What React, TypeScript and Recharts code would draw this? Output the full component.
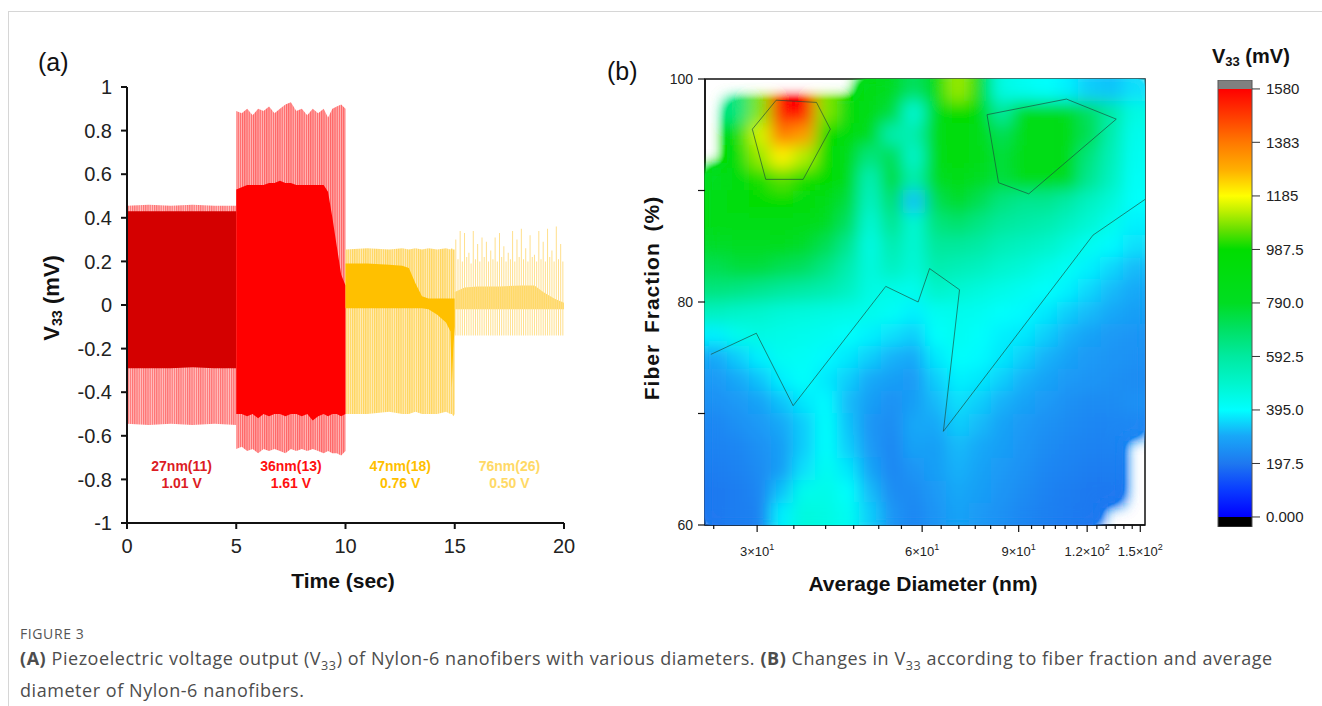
import React from "react"
import {
  ComposedChart, ScatterChart, BarChart, Area, Bar, Scatter, XAxis, YAxis, ReferenceArea,
} from "recharts"

const SANS = "'Liberation Sans', Arial, Helvetica, sans-serif"

// ---------- panel (a): V33 vs time ----------
const timeTicks = [0, 5, 10, 15, 20]
const voltTicks = [-1, -0.8, -0.6, -0.4, -0.2, 0, 0.2, 0.4, 0.6, 0.8, 1]

// 27 nm
const seg1Time = [0, 1, 2, 3, 4, 5]
const seg1SpikeHi = [0.455, 0.46, 0.455, 0.46, 0.455, 0.455]
const seg1SpikeLo = [-0.545, -0.55, -0.545, -0.55, -0.545, -0.55]
const seg1CoreHi = [0.43, 0.43, 0.43, 0.43, 0.43, 0.43]
const seg1CoreLo = [-0.29, -0.29, -0.29, -0.285, -0.29, -0.29]

// 36 nm
const seg2Time = [5, 5.25, 5.5, 5.75, 6, 6.25, 6.5, 6.75, 7, 7.25, 7.5, 7.75, 8, 8.25, 8.5, 8.75, 9, 9.2, 9.4, 9.6, 9.8, 10]
const seg2SpikeHi = [0.89, 0.88, 0.9, 0.87, 0.9, 0.89, 0.91, 0.88, 0.9, 0.92, 0.93, 0.89, 0.9, 0.87, 0.9, 0.88, 0.9, 0.86, 0.9, 0.91, 0.92, 0.9]
const seg2SpikeLo = [-0.66, -0.65, -0.67, -0.66, -0.68, -0.66, -0.67, -0.66, -0.67, -0.68, -0.66, -0.67, -0.66, -0.67, -0.66, -0.67, -0.68, -0.67, -0.68, -0.68, -0.69, -0.67]
const seg2CoreHi = [0.53, 0.54, 0.55, 0.55, 0.55, 0.55, 0.56, 0.56, 0.57, 0.56, 0.56, 0.55, 0.55, 0.55, 0.55, 0.55, 0.55, 0.52, 0.4, 0.27, 0.14, 0.09]
const seg2CoreLo = [-0.5, -0.5, -0.51, -0.5, -0.52, -0.5, -0.51, -0.5, -0.5, -0.51, -0.5, -0.5, -0.51, -0.5, -0.53, -0.51, -0.5, -0.51, -0.5, -0.5, -0.51, -0.5]

// 47 nm
const seg3Time = [10, 11, 12, 12.6, 12.9, 13.2, 13.5, 13.8, 14.2, 14.6, 14.8, 14.87, 14.93, 15]
const seg3SpikeHi = [0.255, 0.26, 0.255, 0.26, 0.255, 0.26, 0.255, 0.26, 0.255, 0.26, 0.255, 0.26, 0.255, 0.255]
const seg3SpikeLo = [-0.5, -0.5, -0.49, -0.5, -0.5, -0.49, -0.5, -0.5, -0.5, -0.49, -0.5, -0.5, -0.51, -0.5]
const seg3CoreHi = [0.19, 0.19, 0.185, 0.18, 0.17, 0.1, 0.04, 0.03, 0.03, 0.03, 0.03, 0.03, 0.03, 0.03]
const seg3CoreLo = [-0.015, -0.015, -0.015, -0.015, -0.015, -0.015, -0.015, -0.02, -0.045, -0.08, -0.12, -0.38, -0.2, -0.1]

// 76 nm
const seg4CoreTime = [15, 15.45, 16.05, 17.05, 18.05, 18.65, 19.05, 19.55, 20]
const seg4CoreHi = [0.06, 0.08, 0.085, 0.085, 0.09, 0.09, 0.06, 0.03, 0.01]
const seg4CoreLo = [-0.02, -0.02, -0.02, -0.02, -0.02, -0.02, -0.02, -0.02, -0.02]
const seg4SpikeTime = [
  15.05, 15.15, 15.25, 15.35, 15.45, 15.55, 15.65, 15.75, 15.85, 15.95,
  16.05, 16.15, 16.25, 16.35, 16.45, 16.55, 16.65, 16.75, 16.85, 16.95,
  17.05, 17.15, 17.25, 17.35, 17.45, 17.55, 17.65, 17.75, 17.85, 17.95,
  18.05, 18.15, 18.25, 18.35, 18.45, 18.55, 18.65, 18.75, 18.85, 18.95,
  19.05, 19.15, 19.25, 19.35, 19.45, 19.55, 19.65, 19.75, 19.85, 19.95,
]
const seg4SpikeHi = [
  0.3, 0.21, 0.34, 0.2, 0.33, 0.22, 0.24, 0.19, 0.34, 0.21,
  0.28, 0.2, 0.31, 0.22, 0.29, 0.2, 0.25, 0.21, 0.31, 0.2,
  0.33, 0.22, 0.27, 0.2, 0.24, 0.21, 0.34, 0.2, 0.3, 0.22,
  0.35, 0.21, 0.26, 0.2, 0.32, 0.22, 0.23, 0.2, 0.34, 0.21,
  0.29, 0.2, 0.35, 0.22, 0.25, 0.2, 0.36, 0.21, 0.28, 0.2,
]
const seg4SpikeLo = -0.14

const segLabelTime = [2.5, 7.5, 12.5, 17.5]
const segLabelLevel = -0.74
const segNames = ["27nm(11)", "36nm(13)", "47nm(18)", "76nm(26)"]
const segVolts = ["1.01 V", "1.61 V", "0.76 V", "0.50 V"]
const segColors = ["#dc1c24", "#ff1010", "#ffbf00", "#ffd966"]

type Row = { t: number; [k: string]: any }
const rowMap = new Map<number, Row>()
function put(t: number, key: string, val: number[]) {
  let r = rowMap.get(t)
  if (!r) { r = { t }; rowMap.set(t, r) }
  r[key] = val
}
seg1Time.forEach((t, i) => { put(t, "s1s", [seg1SpikeLo[i], seg1SpikeHi[i]]); put(t, "s1c", [seg1CoreLo[i], seg1CoreHi[i]]) })
seg2Time.forEach((t, i) => { put(t, "s2s", [seg2SpikeLo[i], seg2SpikeHi[i]]); put(t, "s2c", [seg2CoreLo[i], seg2CoreHi[i]]) })
seg3Time.forEach((t, i) => { put(t, "s3s", [seg3SpikeLo[i], seg3SpikeHi[i]]); put(t, "s3c", [seg3CoreLo[i], seg3CoreHi[i]]) })
seg4CoreTime.forEach((t, i) => put(t, "s4c", [seg4CoreLo[i], seg4CoreHi[i]]))
seg4SpikeTime.forEach((t, i) => put(t, "s4p", [seg4SpikeLo, seg4SpikeHi[i]]))
const voltRows = Array.from(rowMap.values()).sort((a, b) => a.t - b.t)

const segLabelData = segLabelTime.map((t, i) => ({ t, v: segLabelLevel, name: segNames[i], volt: segVolts[i], color: segColors[i] }))

// ---------- panel (b): V33 map ----------
const diamDomain = [24.1, 153]
const diamMajor = [30, 60, 90, 120, 150]
const diamMajorMant = ["3", "6", "9", "1.2", "1.5"]
const diamMajorExp = ["1", "1", "1", "2", "2"]
const diamTicks = [25, 30, 35, 40, 45, 50, 55, 60, 65, 70, 75, 80, 85, 90, 95, 100, 105, 110, 115, 120, 125, 130, 135, 140, 145, 150]
const fracTicks = [60, 70, 80, 90, 100]
const fracLabels = ["60", "", "80", "", "100"]

const fracRows = [99, 97, 95, 93, 91, 89, 87, 85, 83, 81, 79, 77, 75, 73, 71, 69, 67, 65, 63, 61]
const diamCols = [25.2, 27.7, 30.4, 33.3, 36.5, 40.1, 44.0, 48.2, 52.9, 58.0, 63.6, 69.8, 76.6, 83.9, 92.1, 101, 111, 121, 133, 146]
const n = null
const v33Grid: (number | null)[][] = [
  [n, n, n, n, n, n, n, 860, 800, 700, 880, 1100, 880, 450, 420, 400, 380, 340, 330, 360],
  [n, 650, 1080, 1560, 1580, 1080, 900, 850, 750, 480, 850, 950, 900, 600, 850, 860, 820, 700, 580, 450],
  [n, 880, 1150, 1380, 1320, 960, 900, 820, 560, 560, 880, 920, 880, 720, 880, 880, 850, 720, 560, 430],
  [n, 900, 1100, 1200, 1120, 950, 880, 650, 720, 500, 850, 900, 850, 760, 880, 880, 840, 650, 540, 420],
  [820, 900, 1000, 1050, 1000, 950, 850, 550, 760, 560, 800, 850, 800, 750, 850, 850, 800, 620, 520, 410],
  [850, 900, 950, 950, 940, 880, 750, 520, 680, 330, 720, 780, 720, 650, 620, 620, 580, 520, 470, 400],
  [850, 880, 860, 870, 850, 800, 700, 480, 620, 480, 650, 680, 640, 600, 580, 560, 520, 480, 430, 380],
  [780, 800, 800, 820, 780, 720, 620, 450, 560, 480, 600, 600, 580, 540, 520, 500, 460, 420, 390, 360],
  [720, 750, 750, 720, 700, 640, 560, 460, 520, 470, 560, 540, 520, 490, 470, 440, 410, 380, 350, 320],
  [650, 640, 620, 600, 580, 560, 520, 450, 440, 430, 500, 480, 460, 440, 420, 400, 380, 350, 320, 300],
  [520, 500, 490, 470, 460, 450, 440, 430, 410, 380, 420, 430, 420, 400, 390, 370, 340, 320, 300, 280],
  [380, 430, 450, 440, 430, 420, 400, 380, 360, 340, 400, 420, 400, 380, 370, 340, 310, 290, 270, 260],
  [300, 340, 380, 420, 410, 390, 370, 340, 310, 300, 370, 400, 390, 370, 340, 310, 290, 270, 260, 250],
  [270, 300, 330, 380, 400, 370, 340, 300, 280, 270, 340, 380, 370, 340, 310, 290, 270, 260, 250, 240],
  [250, 270, 290, 330, 370, 390, 320, 280, 250, 280, 320, 360, 340, 310, 290, 270, 250, 240, 240, 250],
  [230, 250, 270, 300, 340, 400, 330, 260, 240, 300, 300, 340, 320, 290, 270, 250, 240, 230, 230, 230],
  [220, 230, 250, 280, 340, 400, 340, 270, 230, 290, 280, 320, 300, 280, 260, 240, 230, 220, 220, n],
  [210, 220, 240, 280, 360, 420, 370, 290, 230, 260, 280, 310, 290, 270, 250, 230, 220, 210, 210, n],
  [200, 210, 230, 330, 430, 440, 400, 320, 240, 240, 270, 300, 280, 260, 240, 220, 210, 200, 200, n],
  [200, 210, 220, 380, 460, 450, 420, 340, 260, 230, 260, 290, 270, 250, 230, 215, 205, 200, n, n],
]
const heatCells = fracRows.flatMap((f, r) =>
  diamCols.flatMap((d, c) => (v33Grid[r][c] == null ? [] : [{ d, f, v: v33Grid[r][c] as number }]))
)

// a few of the iso-lines as (diameter, fraction) pairs
const isoLineMid = [
  { d: 24.7, f: 75.3 }, { d: 29.9, f: 77.2 }, { d: 34.9, f: 70.7 }, { d: 51.5, f: 81.4 }, { d: 59.0, f: 80.0 },
  { d: 61.9, f: 83.0 }, { d: 70.2, f: 81.1 }, { d: 65.6, f: 68.4 }, { d: 123, f: 86.0 }, { d: 153, f: 89.2 },
]
const isoLineHot = [
  { d: 29.4, f: 95.5 }, { d: 31.1, f: 91.0 }, { d: 36.4, f: 91.0 }, { d: 40.8, f: 95.5 }, { d: 38.5, f: 97.9 },
  { d: 32.5, f: 98.1 }, { d: 29.4, f: 95.5 },
]
const isoLineBlob = [
  { d: 78.8, f: 96.8 }, { d: 82.7, f: 90.7 }, { d: 93.9, f: 89.7 }, { d: 135.6, f: 96.4 }, { d: 110, f: 98.2 },
  { d: 78.8, f: 96.8 },
]

// colour scale (also used by the colour bar)
const cmapValues = [0, 100, 197.5, 300, 395, 495, 592.5, 700, 790, 987.5, 1060, 1130, 1185, 1280, 1383, 1480, 1580]
const cmapColors = ["#0000ff", "#0a3cff", "#1e78f0", "#18a8f8", "#00ffff", "#00f5cc", "#00eaa0", "#00e060", "#00dd22", "#00dd00", "#66e000", "#c0f000", "#ffff00", "#ffb000", "#ff7800", "#ff3c00", "#ff0000"]
const cbTickValues = [0, 197.5, 395, 592.5, 790, 987.5, 1185, 1383, 1580]
const cbTickLabels = ["0.000", "197.5", "395.0", "592.5", "790.0", "987.5", "1185", "1383", "1580"]
const cbDomain = [-37, 1613]
const cbData = [{ k: "v33", r: cbDomain }]

function rgb(h: string) {
  const x = parseInt(h.slice(1), 16)
  return [(x >> 16) & 255, (x >> 8) & 255, x & 255]
}
function v33Color(v: number) {
  if (v <= cmapValues[0]) return cmapColors[0]
  for (let i = 0; i < cmapValues.length - 1; i++) {
    if (v <= cmapValues[i + 1]) {
      const k = (v - cmapValues[i]) / (cmapValues[i + 1] - cmapValues[i])
      const a = rgb(cmapColors[i]), b = rgb(cmapColors[i + 1])
      return `rgb(${a.map((c, j) => Math.round(c + (b[j] - c) * k)).join(",")})`
    }
  }
  return cmapColors[cmapColors.length - 1]
}

const css = `.heatWrap .recharts-scatter { filter: url(#heatBlur); clip-path: url(#heatClip); }`

function HeatCell(props: any) {
  const { cx, cy, payload } = props
  return <rect x={cx - 11.3} y={cy - 11.45} width={22.6} height={22.9} fill={v33Color(payload.v)} />
}
const NoDot = () => <g />
const isoPen = { stroke: "#1c4a3a", strokeWidth: 1, strokeOpacity: 0.65 }

function SegLabel(props: any) {
  const { cx, cy, payload } = props
  return (
    <g fontFamily={SANS} fontWeight="bold" fontSize={14} fill={payload.color} textAnchor="middle">
      <text x={cx} y={cy} dy="0.35em">{payload.name}</text>
      <text x={cx} y={cy + 17} dy="0.35em">{payload.volt}</text>
    </g>
  )
}

function DiamTick(props: any) {
  const { x, y, payload } = props
  const i = diamMajor.indexOf(payload.value)
  return (
    <g>
      <line x1={x} x2={x} y1={y} y2={y + (i >= 0 ? 7 : 4)} stroke="#111" strokeWidth={1.2} />
      {i >= 0 && (
        <text x={x} y={y + 31} textAnchor="middle" fontSize={13} fill="#222" fontFamily={SANS}>
          {diamMajorMant[i]}×10<tspan dy={-6} fontSize={9}>{diamMajorExp[i]}</tspan>
        </text>
      )}
    </g>
  )
}

function FracTick(props: any) {
  const { x, y, payload } = props
  const lab = fracLabels[fracTicks.indexOf(payload.value)]
  return (
    <g>
      <line x1={x - 7} x2={x} y1={y} y2={y} stroke="#111" strokeWidth={1.2} />
      {lab && (
        <text x={x - 12} y={y} dy="0.35em" textAnchor="end" fontSize={14} fill="#222" fontFamily={SANS}>{lab}</text>
      )}
    </g>
  )
}

const axisPen = { stroke: "#111", strokeWidth: 2 }
const mapMargin = { top: 39, right: 45, bottom: 25, left: 45 }

function abs(left: number, top: number): React.CSSProperties {
  return { position: "absolute", left, top, whiteSpace: "nowrap" }
}
function vert(cx: number, cy: number): React.CSSProperties {
  return { position: "absolute", left: cx, top: cy, transform: "translate(-50%, -50%) rotate(-90deg)", whiteSpace: "nowrap" }
}

export default function App() {
  return (
    <div style={{ position: "absolute", left: 0, top: 0, width: 1322, height: 706, background: "#fff", overflow: "hidden", fontFamily: SANS, color: "#111" }}>
      <style>{css}</style>
      <svg width={0} height={0} style={{ position: "absolute" }}>
        <defs>
          <pattern id="stripeRed1" width={2.2} height={10} patternUnits="userSpaceOnUse">
            <rect width={2.2} height={10} fill="#ffc4c4" />
            <rect width={1.2} height={10} fill="#ff7070" />
          </pattern>
          <pattern id="stripeRed2" width={2.2} height={10} patternUnits="userSpaceOnUse">
            <rect width={2.2} height={10} fill="#ffbaba" />
            <rect width={1.2} height={10} fill="#ff6262" />
          </pattern>
          <pattern id="stripeYel" width={2.2} height={10} patternUnits="userSpaceOnUse">
            <rect width={2.2} height={10} fill="#ffecbc" />
            <rect width={1.2} height={10} fill="#ffd55a" />
          </pattern>
          <filter id="heatBlur" x="-10%" y="-10%" width="120%" height="120%">
            <feGaussianBlur stdDeviation={8} />
            <feComponentTransfer>
              <feFuncA type="linear" slope={2.2} intercept={0} />
            </feComponentTransfer>
          </filter>
          <clipPath id="heatClip" clipPathUnits="objectBoundingBox">
            <rect x={0} y={0} width={1} height={1} />
          </clipPath>
          <linearGradient id="cbGrad" x1="0" y1="1" x2="0" y2="0">
            <stop offset={0} stopColor="#000" />
            <stop offset={(0 - cbDomain[0]) / (cbDomain[1] - cbDomain[0])} stopColor="#000" />
            {cmapValues.map((v, i) => (
              <stop key={i} offset={(v - cbDomain[0]) / (cbDomain[1] - cbDomain[0])} stopColor={cmapColors[i]} />
            ))}
            <stop offset={(1580 - cbDomain[0]) / (cbDomain[1] - cbDomain[0])} stopColor="#808080" />
            <stop offset={1} stopColor="#808080" />
          </linearGradient>
        </defs>
      </svg>

      <div style={{ position: "absolute", left: 8, top: 11, width: 1320, height: 700, borderTop: "1px solid #d6d6d6", borderLeft: "1px solid #d6d6d6" }} />

      {/* panel (a) */}
      <div style={{ ...abs(38, 48), fontSize: 25 }}>(a)</div>
      <div style={{ position: "absolute", left: 0, top: 40 }}>
        <ComposedChart width={600} height={580} data={voltRows} margin={{ top: 47, right: 36, bottom: 27, left: 67 }}>
          <XAxis dataKey="t" type="number" domain={[0, 20]} ticks={timeTicks} interval={0} allowDataOverflow height={70}
            axisLine={axisPen} tickLine={axisPen} tickSize={6} tickMargin={10}
            tick={{ fontSize: 20, fill: "#222", fontFamily: SANS }} />
          <YAxis type="number" domain={[-1, 1]} ticks={voltTicks} interval={0} allowDataOverflow width={60}
            axisLine={axisPen} tickLine={axisPen} tickSize={6} tickMargin={9}
            tick={{ fontSize: 20, fill: "#222", fontFamily: SANS }} tickFormatter={(v) => String(v)} />
          <Area dataKey="s1s" type="linear" stroke="none" fill="url(#stripeRed1)" fillOpacity={1} connectNulls isAnimationActive={false} />
          <Area dataKey="s2s" type="linear" stroke="none" fill="url(#stripeRed2)" fillOpacity={1} connectNulls isAnimationActive={false} />
          <Area dataKey="s3s" type="linear" stroke="none" fill="url(#stripeYel)" fillOpacity={1} connectNulls isAnimationActive={false} />
          <Bar dataKey="s4p" barSize={1.1} fill="#ffdf8a" isAnimationActive={false} />
          <Area dataKey="s1c" type="linear" stroke="none" fill="#d40000" fillOpacity={1} connectNulls isAnimationActive={false} />
          <Area dataKey="s2c" type="linear" stroke="none" fill="#ff0000" fillOpacity={1} connectNulls isAnimationActive={false} />
          <Area dataKey="s3c" type="linear" stroke="none" fill="#ffc000" fillOpacity={1} connectNulls isAnimationActive={false} />
          <Area dataKey="s4c" type="linear" stroke="none" fill="#ffd966" fillOpacity={1} connectNulls isAnimationActive={false} />
          <Scatter data={segLabelData} dataKey="v" shape={SegLabel} isAnimationActive={false} />
        </ComposedChart>
      </div>
      <div style={{ ...vert(52, 298), fontSize: 22, fontWeight: "bold" }}>
        V<sub style={{ fontSize: "0.65em", verticalAlign: "-0.25em" }}>33</sub> (mV)
      </div>
      <div style={{ ...vert(343, 581), transform: "translate(-50%, -50%)", fontSize: 21, fontWeight: "bold" }}>Time (sec)</div>

      {/* panel (b) */}
      <div style={{ ...abs(607, 57), fontSize: 25 }}>(b)</div>
      <div className="heatWrap" style={{ position: "absolute", left: 600, top: 40 }}>
        <ScatterChart width={590} height={580} margin={mapMargin}>
          <XAxis dataKey="d" type="number" scale="log" domain={diamDomain} allowDataOverflow ticks={diamTicks} interval={0}
            tick={DiamTick} tickLine={false} tickSize={0} tickMargin={0} height={70} axisLine={{ stroke: "#111", strokeWidth: 1.5 }} />
          <YAxis dataKey="f" type="number" domain={[60, 100]} allowDataOverflow ticks={fracTicks} interval={0}
            tick={FracTick} tickLine={false} tickSize={0} tickMargin={0} width={60} axisLine={{ stroke: "#111", strokeWidth: 1.5 }} />
          <Scatter data={heatCells} shape={HeatCell} isAnimationActive={false} />
          <ReferenceArea x1={diamDomain[0]} x2={diamDomain[1]} y1={60} y2={100} fill="none" stroke="#111" strokeWidth={1.5} ifOverflow="visible" />
        </ScatterChart>
      </div>
      {/* iso-lines drawn on the same axes, above the blurred map */}
      <div style={{ position: "absolute", left: 600, top: 40 }}>
        <ScatterChart width={590} height={580} margin={mapMargin}>
          <XAxis dataKey="d" type="number" scale="log" domain={diamDomain} allowDataOverflow ticks={diamTicks} tick={false} tickLine={false} axisLine={false} height={70} />
          <YAxis dataKey="f" type="number" domain={[60, 100]} allowDataOverflow ticks={fracTicks} tick={false} tickLine={false} axisLine={false} width={60} />
          <Scatter data={isoLineMid} line={isoPen} lineType="joint" shape={NoDot} isAnimationActive={false} />
          <Scatter data={isoLineHot} line={isoPen} lineType="joint" shape={NoDot} isAnimationActive={false} />
          <Scatter data={isoLineBlob} line={isoPen} lineType="joint" shape={NoDot} isAnimationActive={false} />
        </ScatterChart>
      </div>
      <div style={{ ...vert(652, 298), fontSize: 21, fontWeight: "bold", letterSpacing: 1, wordSpacing: 4 }}>Fiber Fraction (%)</div>
      <div style={{ ...vert(923, 584), transform: "translate(-50%, -50%)", fontSize: 21, fontWeight: "bold" }}>Average Diameter (nm)</div>

      {/* colour bar */}
      <div style={{ ...abs(1212, 45), fontSize: 20, fontWeight: "bold" }}>
        V<sub style={{ fontSize: "0.65em", verticalAlign: "-0.25em" }}>33</sub> (mV)
      </div>
      <div style={{ position: "absolute", left: 1190, top: 40 }}>
        <BarChart width={132} height={500} data={cbData} margin={{ top: 40, right: 10, bottom: 13, left: 28 }} barCategoryGap={0}>
          <XAxis dataKey="k" hide height={0} />
          <YAxis orientation="right" type="number" domain={cbDomain} allowDataOverflow ticks={cbTickValues} interval={0} width={60}
            axisLine={false} tickLine={{ stroke: "#333" }} tickSize={8} tickMargin={6}
            tick={{ fontSize: 15, fill: "#222", fontFamily: SANS }}
            tickFormatter={(v) => cbTickLabels[cbTickValues.indexOf(v)]} />
          <Bar dataKey="r" fill="url(#cbGrad)" stroke="#555" strokeWidth={1} isAnimationActive={false} />
        </BarChart>
      </div>

      {/* caption */}
      <div style={{ ...abs(20, 624), fontFamily: "'Open Sans', sans-serif", fontSize: 14, color: "#555", letterSpacing: 0.6 }}>FIGURE 3</div>
      <div style={{ ...abs(20, 646), fontFamily: "'Open Sans', sans-serif", fontSize: 18, color: "#4d4d4d", lineHeight: "24px", letterSpacing: 0.55 }}>
        <b>(A)</b> Piezoelectric voltage output (V<sub style={{ fontSize: "0.7em" }}>33</sub>) of Nylon-6 nanofibers with various diameters. <b>(B)</b> Changes in V<sub style={{ fontSize: "0.7em" }}>33</sub> according to fiber fraction and average
        <br />
        diameter of Nylon-6 nanofibers.
      </div>
    </div>
  )
}
